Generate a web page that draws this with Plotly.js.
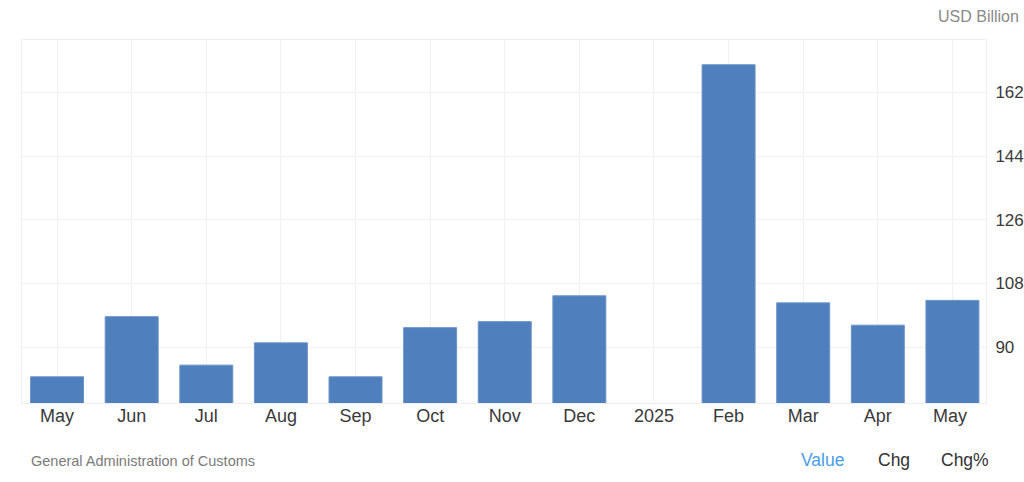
<!DOCTYPE html>
<html>
<head>
<meta charset="utf-8">
<script src="https://cdn.plot.ly/plotly-3.0.1.min.js"></script>
<style>
html,body{margin:0;padding:0;background:#fff;}
#chart{width:1024px;height:482px;}
</style>
</head>
<body>
<div id="chart"></div>
<script>
const categories = ["May","Jun","Jul","Aug","Sep","Oct","Nov","Dec","2025","Feb","Mar","Apr","May "];
const values = [81.6, 98.6, 84.9, 91.2, 81.6, 95.5, 97.2, 104.5, null, 169.8, 102.5, 96.2, 103.2];
const yTicks = [90, 108, 126, 144, 162];
const unitLabel = "USD Billion";
const sourceLabel = "General Administration of Customs";
const buttonLabels = ["Value", "Chg", "Chg%"];

const font = "Liberation Sans, Arial, sans-serif";
const W = 1024, L = 22, R = 38, T = 40, B = 79;
const pw = W - L - R, ph = 482 - T - B;
const px = v => (v - L) / pw;
const py = v => (482 - B - v) / ph;

const trace = {
  type: "bar",
  x: categories,
  y: values,
  marker: {color: "#4f7fbd", line: {color: "#6b93c8", width: 1}},
  hoverinfo: "x+y"
};

const btnX = [822, 894, 965];
const btnColors = ["#4a9de8", "#333333", "#333333"];

const annotations = [
  {text: unitLabel, xref: "paper", yref: "paper", x: px(1021), y: py(16), xanchor: "right", yanchor: "middle", showarrow: false, font: {family: font, size: 16, color: "#8a8a8a"}},
  {text: sourceLabel, xref: "paper", yref: "paper", x: px(29), y: py(461), xanchor: "left", yanchor: "middle", showarrow: false, font: {family: font, size: 14.5, color: "#7a7a7a"}}
].concat(buttonLabels.map((t, i) => ({
  text: t, xref: "paper", yref: "paper", x: px(btnX[i]), y: py(460), xanchor: "center", yanchor: "middle", showarrow: false,
  font: {family: font, size: 17.5, color: btnColors[i]}
})));

const layout = {
  width: 1024, height: 482,
  margin: {l: L, r: R, t: T, b: B},
  paper_bgcolor: "#ffffff",
  plot_bgcolor: "#ffffff",
  showlegend: false,
  bargap: 0.29,
  font: {family: font, color: "#333333"},
  xaxis: {
    type: "category",
    range: [-0.47, 12.45],
    showgrid: true, gridcolor: "#f1f1f1", gridwidth: 1,
    showline: true, linecolor: "#eeeeee", linewidth: 1, mirror: true,
    ticks: "", ticklabelstandoff: -4,
    tickfont: {family: font, size: 18, color: "#3a3a3a"},
    zeroline: false, fixedrange: true
  },
  yaxis: {
    side: "right",
    range: [74.2, 176.8],
    tickvals: yTicks,
    ticktext: yTicks.map(String),
    showgrid: true, gridcolor: "#f1f1f1", gridwidth: 1,
    showline: true, linecolor: "#eeeeee", linewidth: 1, mirror: true,
    ticks: "", ticklabelstandoff: 5,
    tickfont: {family: font, size: 17, color: "#3a3a3a"},
    zeroline: false, fixedrange: true
  },
  annotations: annotations
};

Plotly.newPlot("chart", [trace], layout, {displayModeBar: false, staticPlot: true});
</script>
</body>
</html>
